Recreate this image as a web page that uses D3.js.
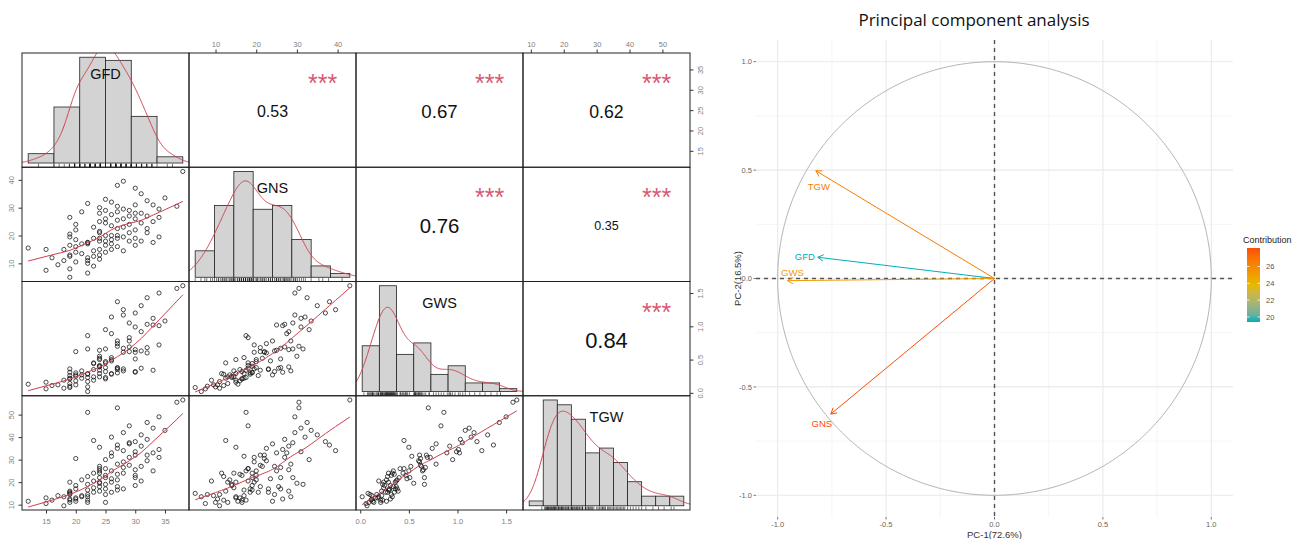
<!DOCTYPE html>
<html>
<head>
<meta charset="utf-8">
<script src="https://cdn.jsdelivr.net/npm/d3@7"></script>
<style>
  body { margin: 0; background: #fff; }
  svg { display: block; }
</style>
</head>
<body>
<svg id="chart" width="1304" height="539"></svg>
<script>
'use strict';

// ---- data ----
const varNames = ['GFD', 'GNS', 'GWS', 'TGW'];

const gfd = [12, 15, 15, 16, 17, 18, 18, 19, 19, 19, 19, 19, 19, 19, 19, 20, 20, 20, 20, 20, 20,
    21, 21, 21, 22, 22, 22, 22, 22, 22, 22, 22, 23, 23, 23, 23, 23,
    24, 24, 24, 24, 24, 24, 24, 24, 24, 24, 25, 25, 25, 25, 25, 25, 25, 25,
    26, 26, 26, 26, 26, 26, 26, 27, 27, 27, 27, 27, 27, 27, 27, 28, 28, 28, 28, 28, 28,
    29, 29, 29, 29, 29, 30, 30, 30, 30, 30, 30, 30,
    31, 31, 31, 31, 32, 32, 32, 32, 33, 33, 33, 34, 34, 34, 35, 37, 38];

const gns = [15.5, 15, 7.5, 12, 9.5, 15, 11, 26.5, 20.5, 19.5,
    16.5, 13, 12.5, 8, 5, 24, 18.5, 16, 14, 10.5,
    22, 17, 13.5, 28.5, 17.5, 31.5, 17.5, 17, 12, 11,
    10, 6.5, 23, 19, 14.5, 12.5, 9, 30, 28, 25,
    21.5, 21, 19, 18, 15, 13, 11.5, 33, 29, 26,
    24.5, 20, 18, 16.5, 14, 32, 27.5, 23.5, 20, 18.5,
    17, 15, 38, 30.5, 28.5, 25.5, 22.5, 20, 19, 16,
    39.5, 29.5, 26, 23, 19.5, 14.5, 29, 27, 24, 21,
    18, 37, 31, 28, 26, 22, 19, 16.5, 35, 28,
    24.5, 18, 32.5, 27, 21, 22.5, 31, 25, 17.5, 29.5,
    26.5, 19.5, 33.5, 30.5, 43];

const gws = [0.13, 0.16, 0.06, 0.11, 0.12, 0.19, 0.07, 0.31, 0.26, 0.36,
    0.21, 0.14, 0.22, 0.1, 0.08, 0.27, 0.3, 0.18, 0.25, 0.12,
    0.62, 0.22, 0.27, 0.33, 0.86, 0.66, 0.23, 0.29, 0.28, 0.17,
    0.09, 0.02, 0.35, 0.44, 0.24, 0.45, 0.19, 0.55, 0.39, 0.64,
    0.52, 0.34, 0.4, 0.41, 0.5, 0.24, 0.29, 0.95, 0.66, 0.38,
    0.32, 0.47, 0.45, 0.21, 0.23, 1.14, 0.89, 0.48, 0.5, 0.28,
    0.53, 0.29, 1.37, 0.7, 0.78, 0.37, 0.74, 0.38, 0.3, 0.35,
    1.25, 1.17, 0.67, 0.36, 0.61, 0.33, 1.05, 0.69, 0.78, 0.62,
    0.83, 1.2, 0.99, 0.65, 0.51, 0.61, 0.31, 0.32, 1.31, 0.92,
    0.63, 0.37, 1.43, 1.03, 0.68, 0.6, 1.12, 1.02, 0.34, 1.5,
    1.01, 0.72, 1.08, 1.57, 1.61];

const tgw = [11.5, 13, 10.5, 12, 14, 13.5, 9.5, 12.5, 15.5, 20,
    12, 11, 16, 14.5, 15, 11.5, 17, 13, 18.5, 12.5,
    30.5, 14, 21, 13.5, 51, 19, 12, 16.5, 22.5, 14.5,
    11, 13.5, 15.5, 24, 17.5, 38.5, 20.5, 19.5, 16, 25,
    27, 18, 22, 26, 35.5, 20, 24, 30, 22, 17,
    14.5, 23, 26, 11, 19, 40, 33, 21.5, 25, 15.5,
    31.5, 20, 36.5, 53, 28, 18, 35, 21, 16.5, 23.5,
    34, 42, 26.5, 17, 29, 24, 37.5, 31, 37, 27.5,
    45, 38, 33.5, 25.5, 22, 32, 18.5, 23, 41, 36,
    27, 20.5, 46.5, 39, 32, 29.5, 44, 33, 25, 49,
    34.5, 31, 43, 55.5, 56.5];

// histogram break points of each diagonal panel
const breaksGFD = [10, 15, 20, 25, 30, 35, 40];
const breaksGNS = [5, 10, 15, 20, 25, 30, 35, 40, 45];
const breaksGWS = [0, 0.2, 0.4, 0.6, 0.8, 1.0, 1.2, 1.4, 1.6, 1.8];
const breaksTGW = [5, 10, 15, 20, 25, 30, 35, 40, 45, 50, 55, 60];

// upper panels: [row, col, r]
const corrCells = [[0, 1, 0.53], [0, 2, 0.67], [0, 3, 0.62], [1, 2, 0.76], [1, 3, 0.35], [2, 3, 0.84]];
const corrStars = '***';

// outer axis ticks of the matrix
const ticksGFD = [15, 20, 25, 30, 35];
const ticksGNS = [10, 20, 30, 40];
const ticksGWS = [0, 0.5, 1.0, 1.5];
const ticksTGW = [10, 20, 30, 40, 50];

// PCA variables
const pcaVars = ['GFD', 'GNS', 'GWS', 'TGW'];
const pc1 = [-0.815, -0.755, -0.955, -0.824];
const pc2 = [0.098, -0.625, -0.01, 0.497];
const contrib = [19.4, 28.2, 25.2, 26.6];
const pcaMajor = [-1, -0.5, 0, 0.5, 1];
const pcaMinor = [-0.75, -0.25, 0.25, 0.75];
const legendTicks = [20, 22, 24, 26];

// ---- drawing ----
const svg = d3.select('#chart');
const rFont = '"Liberation Sans", Arial, sans-serif';
const lineRed = '#cf3f4c';

const cols = [gfd, gns, gws, tgw];
const breaks = [breaksGFD, breaksGNS, breaksGWS, breaksTGW];
const fmts = [d3.format('d'), d3.format('d'), d3.format('.1f'), d3.format('d')];
const tickSets = [ticksGFD, ticksGNS, ticksGWS, ticksTGW];

const box = {left: 22, top: 53, w: 668, h: 457};
const cw = box.w / 4, ch = box.h / 4;
const px = (j) => box.left + j * cw;
const py = (i) => box.top + i * ch;

const padExtent = (ext) => {
    const e = (ext[1] - ext[0]) * 0.04;
    return [ext[0] - e, ext[1] + e];
};
const xScales = cols.map((v, j) => d3.scaleLinear(padExtent(d3.extent(v)), [px(j), px(j + 1)]));
const yScales = cols.map((v, i) => d3.scaleLinear(padExtent(d3.extent(v)), [py(i + 1), py(i)]));

const defs = svg.append('defs');
for (let i = 0; i < 4; i++) {
    for (let j = 0; j < 4; j++) {
        defs.append('clipPath').attr('id', `clip${i}${j}`)
            .append('rect').attr('x', px(j)).attr('y', py(i)).attr('width', cw).attr('height', ch);
    }
}

const lowess = (xs, ys, f, iter) => {
    const idx = d3.range(xs.length).sort((a, b) => xs[a] - xs[b]);
    const x = idx.map(k => xs[k]), y = idx.map(k => ys[k]);
    const n = x.length;
    const ns = Math.max(2, Math.min(n, Math.floor(f * n + 1e-7)));
    let rw = new Array(n).fill(1);
    const fit = new Array(n).fill(0);
    for (let it = 0; it <= iter; it++) {
        for (let i = 0; i < n; i++) {
            const d = x.map(v => Math.abs(v - x[i]));
            const h = d.slice().sort((a, b) => a - b)[ns - 1];
            let sw = 0, sx = 0, sy = 0, sxx = 0, sxy = 0;
            for (let k = 0; k < n; k++) {
                let w = 0;
                if (h <= 0) w = d[k] === 0 ? 1 : 0;
                else if (d[k] <= h * 0.999) {
                    const u = d[k] / h;
                    w = d[k] > h * 0.001 ? Math.pow(1 - u * u * u, 3) : 1;
                }
                w *= rw[k];
                sw += w; sx += w * x[k]; sy += w * y[k];
                sxx += w * x[k] * x[k]; sxy += w * x[k] * y[k];
            }
            const mx = sx / sw, my = sy / sw;
            const den = sxx - sw * mx * mx;
            const b = Math.abs(den) > 1e-12 ? (sxy - sw * mx * my) / den : 0;
            fit[i] = my + b * (x[i] - mx);
        }
        if (it === iter) break;
        const res = y.map((v, k) => v - fit[k]);
        const cmad = 6 * d3.median(res.map(Math.abs));
        rw = res.map(r => {
            const u = Math.abs(r) / cmad;
            return u < 1 ? Math.pow(1 - u * u, 2) : 0;
        });
    }
    return x.map((v, k) => [v, fit[k]]);
};

const density = (v) => {
    const n = v.length;
    const sorted = v.slice().sort((a, b) => a - b);
    const sd = d3.deviation(v);
    const iqr = d3.quantileSorted(sorted, 0.75) - d3.quantileSorted(sorted, 0.25);
    const bw = 0.9 * Math.min(sd, iqr / 1.34) * Math.pow(n, -0.2);
    const lo = sorted[0] - 3 * bw, hi = sorted[n - 1] + 3 * bw;
    return d3.range(512).map(k => {
        const t = lo + (hi - lo) * k / 511;
        let s = 0;
        for (const xi of v) {
            const z = (t - xi) / bw;
            s += Math.exp(-0.5 * z * z);
        }
        return [t, s / (n * bw * Math.sqrt(2 * Math.PI))];
    });
};

const histCounts = (v, br) => {
    const counts = new Array(br.length - 1).fill(0);
    for (const val of v) {
        for (let k = 0; k < br.length - 1; k++) {
            if ((val > br[k] || (k === 0 && val >= br[k])) && val <= br[k + 1]) {
                counts[k]++;
                break;
            }
        }
    }
    return counts;
};

const matrix = svg.append('g');

for (let i = 0; i < 4; i++) {
    for (let j = 0; j < 4; j++) {
        const cell = matrix.append('g').attr('clip-path', `url(#clip${i}${j})`);
        if (i === j) {
            const v = cols[i];
            const br = breaks[i];
            const counts = histCounts(v, br);
            const dens = counts.map((c, k) => c / (v.length * (br[k + 1] - br[k])));
            const maxD = d3.max(dens);
            const hx = d3.scaleLinear(padExtent([br[0], br[br.length - 1]]), [px(j), px(j + 1)]);
            const hy = d3.scaleLinear([-0.04 * maxD, 1.04 * maxD], [py(i + 1), py(i)]);
            cell.selectAll('rect.bar').data(dens).enter().append('rect')
                .attr('x', (d, k) => hx(br[k]))
                .attr('y', d => hy(d))
                .attr('width', (d, k) => hx(br[k + 1]) - hx(br[k]))
                .attr('height', d => hy(0) - hy(d))
                .attr('fill', '#d3d3d3')
                .attr('stroke', '#222')
                .attr('stroke-width', 0.8);
            cell.append('path')
                .attr('d', d3.line().x(d => hx(d[0])).y(d => hy(d[1]))(density(v)))
                .attr('fill', 'none').attr('stroke', lineRed).attr('stroke-width', 1);
            cell.selectAll('line.rug').data(v).enter().append('line')
                .attr('x1', d => hx(d)).attr('x2', d => hx(d))
                .attr('y1', py(i + 1)).attr('y2', py(i + 1) - 0.03 * ch)
                .attr('stroke', '#111').attr('stroke-width', 0.6);
            const fs = 14.5;
            matrix.append('text')
                .attr('x', px(j) + cw / 2)
                .attr('y', py(i) + (1 - 0.8333) * ch + 0.36 * fs + 1.8)
                .attr('text-anchor', 'middle')
                .attr('font-family', rFont).attr('font-size', fs).attr('fill', '#111')
                .text(varNames[i]);
        } else if (i > j) {
            const xs = cols[j], ys = cols[i];
            const sx = xScales[j], sy = yScales[i];
            cell.selectAll('circle').data(xs).enter().append('circle')
                .attr('cx', d => sx(d))
                .attr('cy', (d, k) => sy(ys[k]))
                .attr('r', 2.1)
                .attr('fill', 'none').attr('stroke', '#111').attr('stroke-width', 0.75);
            cell.append('path')
                .attr('d', d3.line().x(d => sx(d[0])).y(d => sy(d[1]))(lowess(xs, ys, 2 / 3, 3)))
                .attr('fill', 'none').attr('stroke', lineRed).attr('stroke-width', 1);
        }
    }
}

// correlation panels
const starSize = 25;
corrCells.forEach(([i, j, r]) => {
    const fs = starSize * (Math.abs(r) + 0.3) / 1.3;
    matrix.append('text')
        .attr('x', px(j) + 0.5 * cw)
        .attr('y', py(i) + 0.5 * ch + 0.36 * fs + 1.5)
        .attr('text-anchor', 'middle')
        .attr('font-family', rFont).attr('font-size', fs).attr('fill', '#111')
        .text(d3.format('.2f')(r));
    matrix.append('text')
        .attr('x', px(j) + 0.8 * cw)
        .attr('y', py(i) + 0.2 * ch + 0.65 * starSize)
        .attr('text-anchor', 'middle')
        .attr('font-family', rFont).attr('font-size', starSize).attr('fill', '#d65a74')
        .text(corrStars);
});

// panel boxes
for (let i = 0; i < 4; i++) {
    for (let j = 0; j < 4; j++) {
        matrix.append('rect')
            .attr('x', px(j)).attr('y', py(i)).attr('width', cw).attr('height', ch)
            .attr('fill', 'none').attr('stroke', '#222').attr('stroke-width', 1);
    }
}

// outer axes of the matrix (R pairs alternates sides)
const axisFont = 7.5, axisCol = '#808080';
const styleAxis = (g) => {
    g.select('.domain').remove();
    g.selectAll('.tick line').attr('stroke', '#333');
    g.selectAll('.tick text').attr('fill', axisCol).attr('font-family', rFont).attr('font-size', axisFont);
};
[1, 3].forEach(j => {
    const g = matrix.append('g').attr('transform', `translate(0,${box.top})`)
        .call(d3.axisTop(xScales[j]).tickValues(tickSets[j]).tickFormat(fmts[j]).tickSize(3.5).tickPadding(3));
    styleAxis(g);
});
[0, 2].forEach(j => {
    const g = matrix.append('g').attr('transform', `translate(0,${box.top + box.h})`)
        .call(d3.axisBottom(xScales[j]).tickValues(tickSets[j]).tickFormat(fmts[j]).tickSize(3.5).tickPadding(5));
    styleAxis(g);
});
[1, 3].forEach(i => {
    const g = matrix.append('g').attr('transform', `translate(${box.left},0)`)
        .call(d3.axisLeft(yScales[i]).tickValues(tickSets[i]).tickFormat(fmts[i]).tickSize(3.5));
    styleAxis(g);
    g.selectAll('.tick text').attr('x', null).attr('dy', null)
        .attr('text-anchor', 'middle').attr('transform', 'translate(-8.5,0) rotate(-90)');
});
[0, 2].forEach(i => {
    const g = matrix.append('g').attr('transform', `translate(${box.left + box.w},0)`)
        .call(d3.axisRight(yScales[i]).tickValues(tickSets[i]).tickFormat(fmts[i]).tickSize(3.5));
    styleAxis(g);
    g.selectAll('.tick text').attr('x', null).attr('dy', null)
        .attr('text-anchor', 'middle').attr('transform', 'translate(12.5,0) rotate(-90)');
});

// ---- PCA correlation circle ----
const gFont = '"Liberation Sans", Arial, sans-serif';
const pca = svg.append('g');
const pxS = d3.scaleLinear([-1.1, 1.1], [756, 1233]);
const pyS = d3.scaleLinear([-1.1, 1.1], [517, 40]);

pcaMinor.forEach(t => {
    pca.append('line').attr('x1', pxS(t)).attr('x2', pxS(t)).attr('y1', pyS(1.1)).attr('y2', pyS(-1.1))
        .attr('stroke', '#f1f1f1').attr('stroke-width', 0.7);
    pca.append('line').attr('y1', pyS(t)).attr('y2', pyS(t)).attr('x1', pxS(-1.1)).attr('x2', pxS(1.1))
        .attr('stroke', '#f1f1f1').attr('stroke-width', 0.7);
});
pcaMajor.forEach(t => {
    pca.append('line').attr('x1', pxS(t)).attr('x2', pxS(t)).attr('y1', pyS(1.1)).attr('y2', pyS(-1.1))
        .attr('stroke', '#e9e9e9').attr('stroke-width', 1.1);
    pca.append('line').attr('y1', pyS(t)).attr('y2', pyS(t)).attr('x1', pxS(-1.1)).attr('x2', pxS(1.1))
        .attr('stroke', '#e9e9e9').attr('stroke-width', 1.1);
});

// unit circle
pca.append('path')
    .attr('d', d3.line().x(d => pxS(Math.cos(d))).y(d => pyS(Math.sin(d)))(d3.range(0, 2 * Math.PI + 0.01, 0.01)))
    .attr('fill', 'none').attr('stroke', '#aaa').attr('stroke-width', 0.9);

// dashed reference lines
pca.append('line').attr('x1', pxS(-1.1)).attr('x2', pxS(1.1)).attr('y1', pyS(0)).attr('y2', pyS(0))
    .attr('stroke', '#555').attr('stroke-width', 1.4).attr('stroke-dasharray', '4,4');
pca.append('line').attr('x1', pxS(0)).attr('x2', pxS(0)).attr('y1', pyS(1.1)).attr('y2', pyS(-1.1))
    .attr('stroke', '#555').attr('stroke-width', 1.4).attr('stroke-dasharray', '4,4');

const cExt = d3.extent(contrib);
const cScale = d3.scaleLinear()
    .domain([cExt[0], (cExt[0] + cExt[1]) / 2, cExt[1]])
    .range(['#00AFBB', '#E7B800', '#FC4E07'])
    .interpolate(d3.interpolateLab);

const labelShift = {GFD: [-13, 3], GNS: [-9, 13], GWS: [5, -5], TGW: [3, 19]};
pcaVars.forEach((name, k) => {
    const x0 = pxS(0), y0 = pyS(0);
    const x1 = pxS(pc1[k]), y1 = pyS(pc2[k]);
    const col = cScale(contrib[k]);
    pca.append('line').attr('x1', x0).attr('y1', y0).attr('x2', x1).attr('y2', y1)
        .attr('stroke', col).attr('stroke-width', 1);
    const ang = Math.atan2(y0 - y1, x0 - x1);
    const hl = 6.5;
    [-Math.PI / 6, Math.PI / 6].forEach(a => {
        pca.append('line').attr('x1', x1).attr('y1', y1)
            .attr('x2', x1 + hl * Math.cos(ang + a)).attr('y2', y1 + hl * Math.sin(ang + a))
            .attr('stroke', col).attr('stroke-width', 1);
    });
    const [dx, dy] = labelShift[name];
    pca.append('text').attr('x', x1 + dx).attr('y', y1 + dy)
        .attr('text-anchor', 'middle').attr('font-family', gFont).attr('font-size', 9.5)
        .attr('fill', col).text(name);
});

// axes
const pTick = 2.5;
pcaMajor.forEach(t => {
    pca.append('line').attr('x1', pxS(-1.1) - pTick).attr('x2', pxS(-1.1)).attr('y1', pyS(t)).attr('y2', pyS(t))
        .attr('stroke', '#555').attr('stroke-width', 0.8);
    pca.append('text').attr('x', pxS(-1.1) - pTick - 1.5).attr('y', pyS(t) + 2.6)
        .attr('text-anchor', 'end').attr('font-family', gFont).attr('font-size', 7.5).attr('fill', '#666')
        .text(d3.format('.1f')(t).replace('\u2212', '-'));
    pca.append('line').attr('x1', pxS(t)).attr('x2', pxS(t)).attr('y1', pyS(-1.1)).attr('y2', pyS(-1.1) + pTick)
        .attr('stroke', '#555').attr('stroke-width', 0.8);
    pca.append('text').attr('x', pxS(t)).attr('y', pyS(-1.1) + pTick + 7.5)
        .attr('text-anchor', 'middle').attr('font-family', gFont).attr('font-size', 7.5).attr('fill', '#666')
        .text(d3.format('.1f')(t).replace('\u2212', '-'));
});
pca.append('text').attr('x', pxS(0)).attr('y', 538)
    .attr('text-anchor', 'middle').attr('font-family', gFont).attr('font-size', 9.5).attr('fill', '#333')
    .text('PC-1(72.6%)');
pca.append('text').attr('transform', `translate(741,${pyS(0)}) rotate(-90)`)
    .attr('text-anchor', 'middle').attr('font-family', gFont).attr('font-size', 9.5).attr('fill', '#333')
    .text('PC-2(16.5%)');

pca.append('text').attr('x', 974).attr('y', 26)
    .attr('text-anchor', 'middle').attr('font-family', '"Open Sans", "Noto Sans", sans-serif')
    .attr('font-size', 17).attr('fill', '#111')
    .text('Principal component analysis');

// colour bar legend
const lg = {x: 1247, w: 13, top: 248, bottom: 322};
const lgY = d3.scaleLinear(cExt, [lg.bottom, lg.top]);
const grad = defs.append('linearGradient').attr('id', 'contribGrad')
    .attr('x1', 0).attr('y1', 1).attr('x2', 0).attr('y2', 0);
d3.range(0, 1.001, 0.1).forEach(t => {
    grad.append('stop').attr('offset', t)
        .attr('stop-color', cScale(cExt[0] + t * (cExt[1] - cExt[0])));
});
pca.append('rect').attr('x', lg.x).attr('y', lg.top).attr('width', lg.w).attr('height', lg.bottom - lg.top)
    .attr('fill', 'url(#contribGrad)');
legendTicks.forEach(t => {
    pca.append('line').attr('x1', lg.x).attr('x2', lg.x + 2.5).attr('y1', lgY(t)).attr('y2', lgY(t))
        .attr('stroke', '#fff').attr('stroke-width', 0.8);
    pca.append('line').attr('x1', lg.x + lg.w - 2.5).attr('x2', lg.x + lg.w).attr('y1', lgY(t)).attr('y2', lgY(t))
        .attr('stroke', '#fff').attr('stroke-width', 0.8);
    pca.append('text').attr('x', lg.x + lg.w + 6).attr('y', lgY(t) + 2.6)
        .attr('font-family', gFont).attr('font-size', 7.5).attr('fill', '#555').text(t);
});
pca.append('text').attr('x', lg.x - 4).attr('y', 243)
    .attr('font-family', gFont).attr('font-size', 9).attr('fill', '#222').text('Contribution');
</script>
</body>
</html>
